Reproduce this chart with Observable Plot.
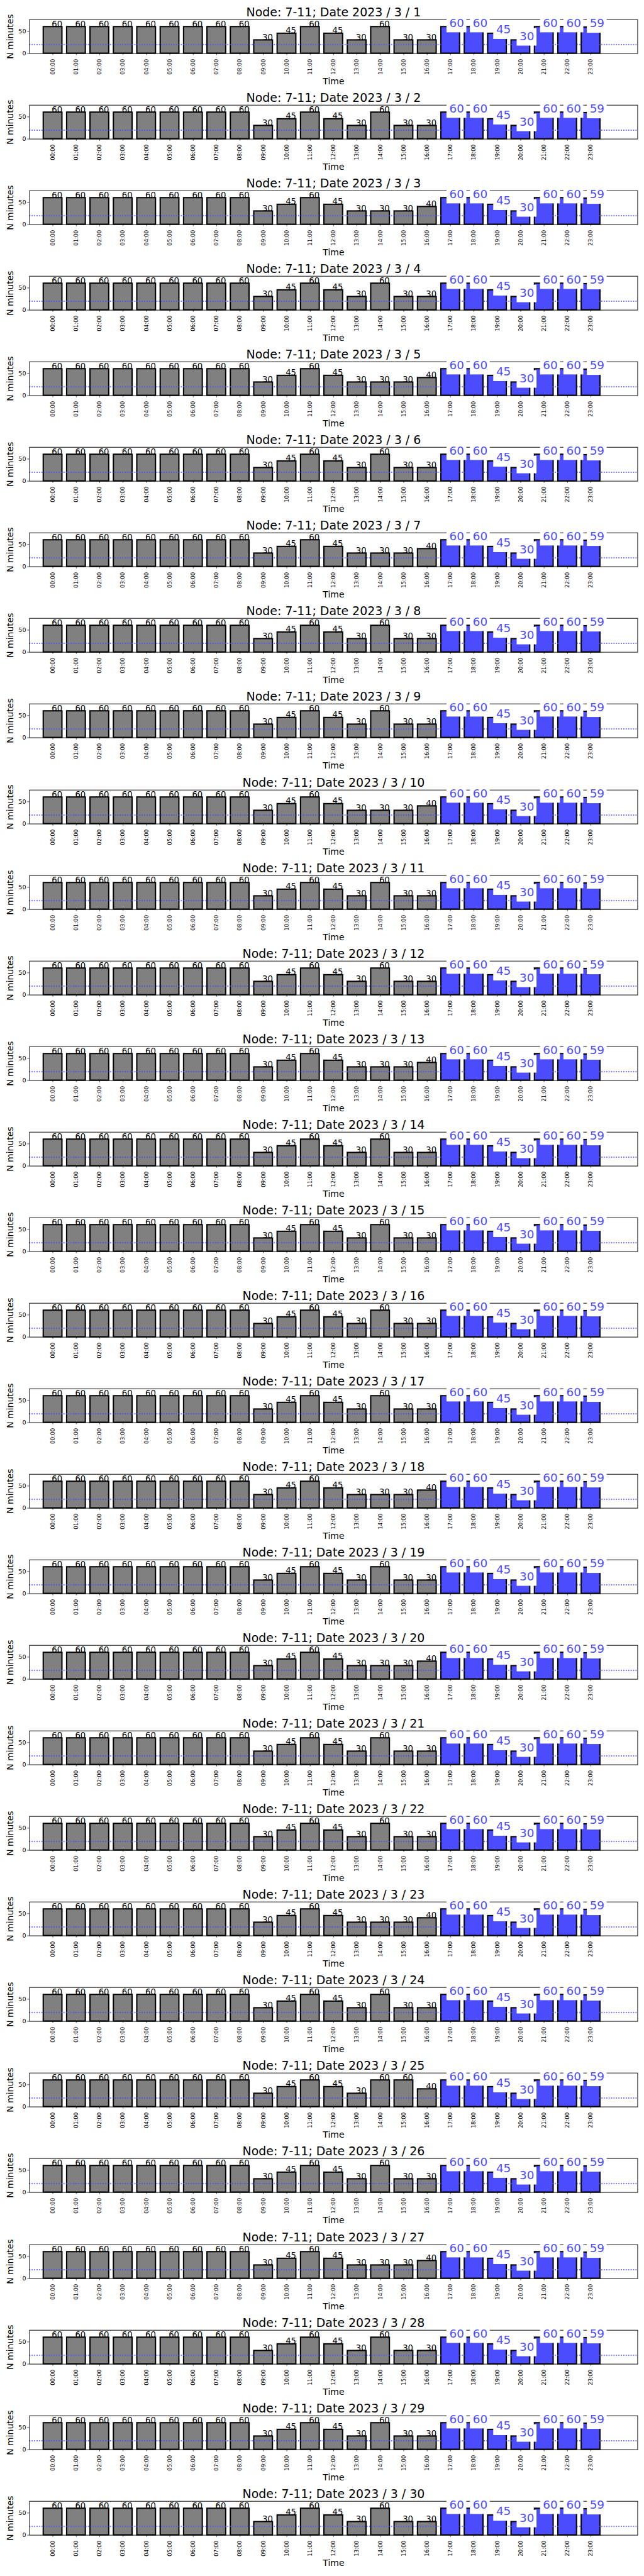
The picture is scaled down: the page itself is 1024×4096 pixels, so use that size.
<!DOCTYPE html>
<html><head><meta charset="utf-8">
<script src="https://cdn.jsdelivr.net/npm/d3@7"></script>
<script src="https://cdn.jsdelivr.net/npm/@observablehq/plot@0.6"></script>
<style>
html,body{margin:0;padding:0;background:#fff;}
#root{position:relative;width:1024px;height:4096px;overflow:hidden;background:#fff;}
#root > svg{position:absolute;left:0;}
</style></head><body><div id="root"></div>
<script>
const S = 0.682;
const hours = ["00:00","01:00","02:00","03:00","04:00","05:00","06:00","07:00","08:00","09:00","10:00","11:00",
               "12:00","13:00","14:00","15:00","16:00","17:00","18:00","19:00","20:00","21:00","22:00","23:00"];
const highlightHours = ["17:00","18:00","19:00","20:00","21:00","22:00","23:00"];
const days = [1,2,3,4,5,6,7,8,9,10,11,12,13,14,15,16,17,18,19,20,21,22,23,24,25,26,27,28,29,30];
const yTicks = [0, 50];
const thresholdMinutes = [20];
const minutesByDay = [
  [60,60,60,60,60,60,60,60,60,30,45,60,45,30,60,30,30,60,60,45,30,60,60,59], // 3/1
  [60,60,60,60,60,60,60,60,60,30,45,60,45,30,60,30,30,60,60,45,30,60,60,59], // 3/2
  [60,60,60,60,60,60,60,60,60,30,45,60,45,30,30,30,40,60,60,45,30,60,60,59], // 3/3
  [60,60,60,60,60,60,60,60,60,30,45,60,45,30,60,30,30,60,60,45,30,60,60,59], // 3/4
  [60,60,60,60,60,60,60,60,60,30,45,60,45,30,30,30,40,60,60,45,30,60,60,59], // 3/5
  [60,60,60,60,60,60,60,60,60,30,45,60,45,30,60,30,30,60,60,45,30,60,60,59], // 3/6
  [60,60,60,60,60,60,60,60,60,30,45,60,45,30,30,30,40,60,60,45,30,60,60,59], // 3/7
  [60,60,60,60,60,60,60,60,60,30,45,60,45,30,60,30,30,60,60,45,30,60,60,59], // 3/8
  [60,60,60,60,60,60,60,60,60,30,45,60,45,30,60,30,30,60,60,45,30,60,60,59], // 3/9
  [60,60,60,60,60,60,60,60,60,30,45,60,45,30,30,30,40,60,60,45,30,60,60,59], // 3/10
  [60,60,60,60,60,60,60,60,60,30,45,60,45,30,60,30,30,60,60,45,30,60,60,59], // 3/11
  [60,60,60,60,60,60,60,60,60,30,45,60,45,30,60,30,30,60,60,45,30,60,60,59], // 3/12
  [60,60,60,60,60,60,60,60,60,30,45,60,45,30,30,30,40,60,60,45,30,60,60,59], // 3/13
  [60,60,60,60,60,60,60,60,60,30,45,60,45,30,60,30,30,60,60,45,30,60,60,59], // 3/14
  [60,60,60,60,60,60,60,60,60,30,45,60,45,30,60,30,30,60,60,45,30,60,60,59], // 3/15
  [60,60,60,60,60,60,60,60,60,30,45,60,45,30,60,30,30,60,60,45,30,60,60,59], // 3/16
  [60,60,60,60,60,60,60,60,60,30,45,60,45,30,60,30,30,60,60,45,30,60,60,59], // 3/17
  [60,60,60,60,60,60,60,60,60,30,45,60,45,30,30,30,40,60,60,45,30,60,60,59], // 3/18
  [60,60,60,60,60,60,60,60,60,30,45,60,45,30,60,30,30,60,60,45,30,60,60,59], // 3/19
  [60,60,60,60,60,60,60,60,60,30,45,60,45,30,30,30,40,60,60,45,30,60,60,59], // 3/20
  [60,60,60,60,60,60,60,60,60,30,45,60,45,30,60,30,30,60,60,45,30,60,60,59], // 3/21
  [60,60,60,60,60,60,60,60,60,30,45,60,45,30,60,30,30,60,60,45,30,60,60,59], // 3/22
  [60,60,60,60,60,60,60,60,60,30,45,60,45,30,30,30,40,60,60,45,30,60,60,59], // 3/23
  [60,60,60,60,60,60,60,60,60,30,45,60,45,30,60,30,30,60,60,45,30,60,60,59], // 3/24
  [60,60,60,60,60,60,60,60,60,30,45,60,45,30,60,60,40,60,60,45,30,60,60,59], // 3/25
  [60,60,60,60,60,60,60,60,60,30,45,60,45,30,60,30,30,60,60,45,30,60,60,59], // 3/26
  [60,60,60,60,60,60,60,60,60,30,45,60,45,30,30,30,40,60,60,45,30,60,60,59], // 3/27
  [60,60,60,60,60,60,60,60,60,30,45,60,45,30,60,30,30,60,60,45,30,60,60,59], // 3/28
  [60,60,60,60,60,60,60,60,60,30,45,60,45,30,60,30,30,60,60,45,30,60,60,59], // 3/29
  [60,60,60,60,60,60,60,60,60,30,45,60,45,30,60,30,30,60,60,45,30,60,60,59]  // 3/30
];

const GRAY = "#808080", BLUE = "#4c4cff";
const PITCH = 199.5 * S;
const BLUE_FS = 27 * S;
const PAD_X = 6 * S, PAD_Y = 7 * S;
const DIGIT_EM = 0.636;
const root = document.getElementById("root");

days.forEach((day, k) => {
  const rows = hours.map((h, i) => ({i, h, v: minutesByDay[k][i], hi: highlightHours.includes(h)}));
  const gray = rows.filter(d => !d.hi), blue = rows.filter(d => d.hi);
  const plot = Plot.plot({
    width: 1500 * S, height: PITCH,
    marginTop: 45 * S, marginBottom: (199.5 - 124) * S, marginLeft: 68 * S, marginRight: 14 * S,
    style: {fontFamily: "DejaVu Sans", background: "transparent", overflow: "visible", color: "black"},
    x: {domain: [-1, 25], axis: null},
    y: {domain: [0, 76.4], axis: null},
    marks: [
      Plot.rectY(gray, {x1: d => d.i - 0.4, x2: d => d.i + 0.4, y1: 0, y2: "v", fill: GRAY, stroke: "black", strokeWidth: 3 * S}),
      Plot.rectY(blue, {x1: d => d.i - 0.4, x2: d => d.i + 0.4, y1: 0, y2: "v", fill: BLUE, stroke: "black", strokeWidth: 3 * S}),
      Plot.ruleY(thresholdMinutes, {stroke: BLUE, strokeWidth: 2 * S, strokeDasharray: `${2.7 * S},${3 * S}`}),
      Plot.frame({stroke: "black", strokeWidth: 1.4 * S}),
      Plot.axisY({ticks: yTicks, tickSize: 4.5 * S, tickPadding: 3.5 * S, fontSize: 14 * S, label: null, strokeWidth: 1.1 * S}),
      Plot.axisX({ticks: rows.map(d => d.i), tickFormat: i => hours[i], tickRotate: -90, tickSize: 4.5 * S,
                  tickPadding: 8.2 * S, fontSize: 12.7 * S, label: null, strokeWidth: 1.1 * S}),
      Plot.text(gray, {x: d => d.i - 0.05, y: "v", text: d => String(d.v), textAnchor: "start", lineAnchor: "bottom",
                       fontSize: 19.4 * S, fill: "black"}),
      Plot.rect(blue, {x1: d => d.i - 0.05, x2: d => d.i - 0.05, y1: "v", y2: "v",
                       insetLeft: -PAD_X, insetRight: -(2 * DIGIT_EM * BLUE_FS + PAD_X),
                       insetTop: -(0.76 * BLUE_FS + PAD_Y), insetBottom: -(0.236 * BLUE_FS + PAD_Y), fill: "white"}),
      Plot.text(blue, {x: d => d.i - 0.05, y: "v", text: d => String(d.v), textAnchor: "start", lineAnchor: "bottom",
                       fontSize: BLUE_FS, fill: BLUE}),
      Plot.text([`Node: 7-11; Date 2023 / 3 / ${day}`], {text: d => d, frameAnchor: "top", textAnchor: "middle", dy: -8 * S,
                       lineAnchor: "bottom", fontSize: 27.8 * S, fill: "black"}),
      Plot.text(["N minutes"], {text: d => d, frameAnchor: "left", textAnchor: "middle", dx: -44 * S, rotate: -90,
                       lineAnchor: "middle", fontSize: 20.5 * S, fill: "black"}),
      Plot.text(["Time"], {text: d => d, frameAnchor: "bottom", textAnchor: "middle", dy: 71.5 * S, lineAnchor: "bottom",
                       fontSize: 20.5 * S, fill: "black"})
    ]
  });
  plot.style.top = (k * PITCH) + "px";
  root.appendChild(plot);
});
</script>
</body></html>
